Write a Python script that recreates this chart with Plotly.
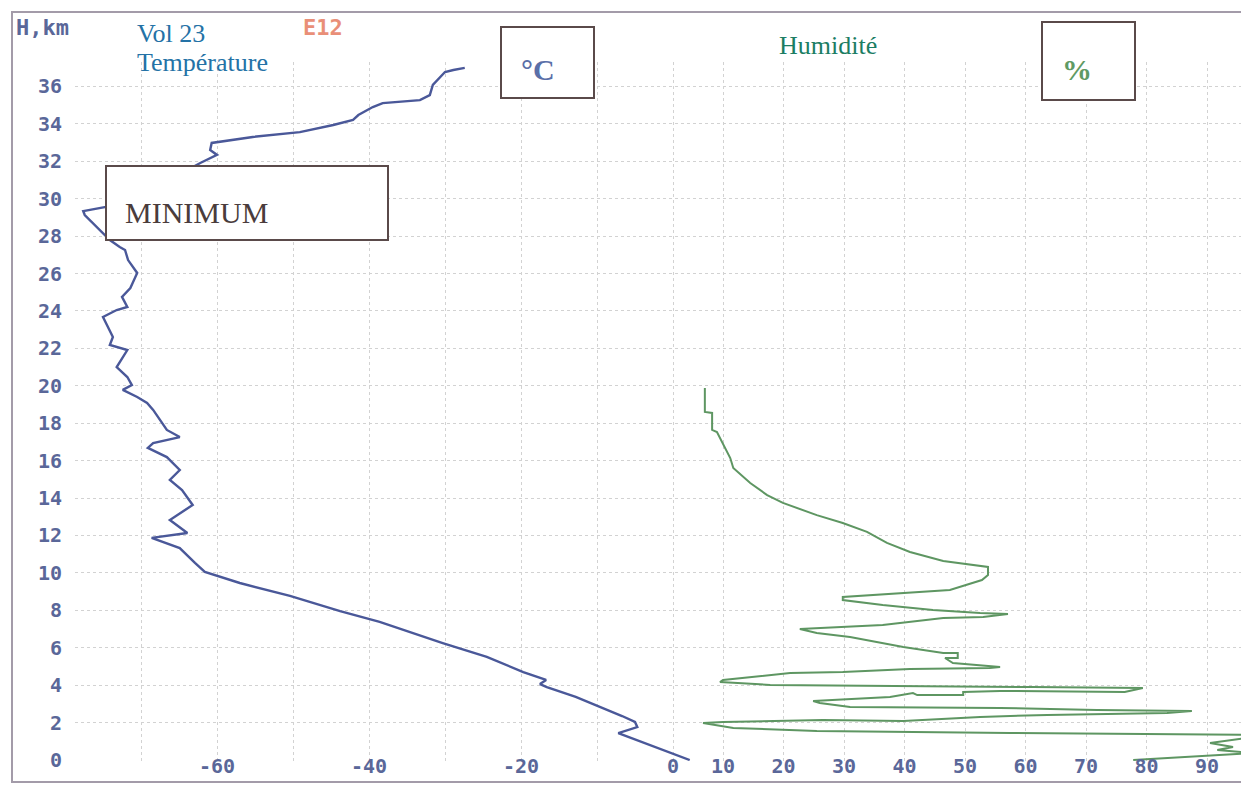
import plotly.graph_objects as go

# ---------------- data ----------------
# Temperature profile (°C) vs altitude (km)
temp_km = [0.00, 0.53, 1.02, 1.44, 1.76, 2.03, 2.35, 2.89, 3.37, 3.90, 4.06, 4.28, 4.70, 5.51,
           6.25, 7.38, 7.96, 8.77, 9.46, 10.05, 10.53, 11.33, 11.87, 12.13, 12.83, 13.63, 14.00,
           14.43, 14.97, 15.50, 16.19, 16.68, 16.94, 17.26, 17.64, 18.17, 18.71, 19.08, 19.40,
           19.78, 20.04, 20.47, 21.00, 21.91, 22.18, 22.61, 23.68, 24.05, 24.21, 24.75, 25.23,
           26.03, 26.35, 26.72, 27.26, 27.42, 27.79, 28.33, 29.13, 29.34, 29.56, 30.46, 31.91,
           32.34, 32.60, 32.98, 33.14, 33.30, 33.56, 33.94, 34.21, 34.47, 34.90, 35.11, 35.27,
           35.54, 36.08, 36.45, 36.77, 36.88, 36.99]
temp_c = [2.2, -1.3, -4.3, -7.2, -4.7, -5.0, -6.7, -9.9, -12.8, -16.6, -17.5, -16.7, -19.7, -24.5,
          -30.3, -38.6, -43.8, -50.4, -57.0, -61.6, -62.9, -64.9, -68.6, -63.9, -66.2, -63.2, -63.9,
          -64.6, -66.2, -64.9, -66.6, -69.1, -68.4, -64.9, -66.6, -67.5, -68.4, -69.2, -70.5,
          -72.4, -71.2, -71.8, -73.2, -71.8, -74.1, -73.7, -75.0, -73.2, -71.8, -72.5, -71.4,
          -70.5, -71.1, -71.7, -72.1, -72.8, -74.1, -75.4, -77.4, -77.6, -74.6, -68.8, -62.2,
          -60.0, -60.9, -60.7, -57.9, -55.3, -49.1, -44.7, -42.1, -41.4, -39.5, -38.2, -33.3,
          -32.0, -31.6, -30.7, -30.0, -28.9, -27.4]

# Relative humidity profile (%) vs altitude (km)
hum_km = [19.88, 18.60, 18.55, 17.64, 17.53, 17.00, 16.14, 15.61, 14.80, 14.16, 13.74, 13.09,
          12.67, 12.19, 11.60, 11.12, 10.64, 10.32, 9.89, 9.62, 9.09, 8.71, 8.55, 8.28, 8.02,
          7.86, 7.80, 7.64, 7.59, 7.22, 7.00, 6.79, 6.57, 6.04, 5.72, 5.72, 5.45, 5.45, 5.18,
          4.97, 4.92, 4.86, 4.70, 4.65, 4.28, 4.17, 4.01, 3.90, 3.85, 3.63, 3.69, 3.63, 3.47,
          3.47, 3.58, 3.37, 3.21, 3.15, 3.05, 2.83, 2.78, 2.67, 2.62, 2.51, 2.41, 2.30, 2.08,
          2.14, 2.03, 1.98, 1.71, 1.55, 1.44, 1.34, 1.18, 0.91, 0.69, 0.53, 0.37, 0.16, 0.00]
hum_pct = [7.0, 7.0, 8.2, 8.2, 9.0, 9.8, 11.2, 11.7, 14.5, 17.3, 19.9, 25.5,
           29.8, 33.8, 37.1, 40.9, 46.4, 53.8, 53.8, 52.8, 47.5, 29.8, 29.8, 36.4, 44.7,
           52.5, 57.1, 53.0, 46.4, 36.4, 22.7, 25.5, 31.0, 39.8, 46.4, 48.8, 48.8, 46.7, 48.0,
           55.8, 54.1, 40.9, 29.8, 21.1, 10.0, 9.5, 17.8, 61.2, 79.4, 76.4, 55.8, 49.7, 49.7,
           42.1, 41.4, 37.6, 28.2, 24.9, 26.0, 31.0, 55.8, 71.8, 87.5, 83.4, 63.6, 52.5, 39.8,
           26.5, 10.0, 6.7, 11.7, 25.5, 57.4, 97.5, 96.8, 90.5, 94.3, 91.7, 97.5, 86.7, 77.8]

# tick labels
y_ticks = list(range(0, 37, 2))
y_ticktext = [str(v) for v in y_ticks]
temp_ticks = [-70, -60, -50, -40, -30, -20, -10, 0]
temp_ticktext = ["", "-60", "", "-40", "", "-20", "", "0"]
hum_ticks = [10, 20, 30, 40, 50, 60, 70, 80, 90]
hum_ticktext = [str(v) for v in hum_ticks]

# ---------------- layout geometry (page pixels) ----------------
PAGE_W, PAGE_H = 1249, 787
OFF = 8                                  # default body margin of the html page
W, H = PAGE_W - OFF, PAGE_H - OFF        # figure size
PLOT_L, PLOT_R, PLOT_T, PLOT_B = 75, 1249, 62, 761   # plot area in page pixels
ML, MR, MT = PLOT_L - OFF, 0, PLOT_T - OFF
MB = (OFF + H) - PLOT_B
PW, PH = PLOT_R - PLOT_L, PLOT_B - PLOT_T


def px_x(px):
    return (px - PLOT_L) / PW


def px_y(py):
    return (PLOT_B - py) / PH


# axis scales (page pixel position of reference values)
T0_PX, T_PER_DEG = 673, 7.6          # 0 °C position, px per °C
RH10_PX, RH_PER_PCT = 723, 6.05      # 10 % position, px per %
KM0_PX, KM_PX = 760, 18.71           # 0 km position, px per km

temp_range = [(PLOT_L - T0_PX) / T_PER_DEG, (PLOT_R - T0_PX) / T_PER_DEG]
hum_range = [10 + (PLOT_L - RH10_PX) / RH_PER_PCT, 10 + (PLOT_R - RH10_PX) / RH_PER_PCT]
km_range = [(KM0_PX - PLOT_B) / KM_PX, (KM0_PX - PLOT_T) / KM_PX]

TICK_COLOR = "#5a6799"
GRID_COLOR = "#d2d2d2"
tickfont = dict(family="DejaVu Sans Mono", size=20, color=TICK_COLOR, weight="bold")

fig = go.Figure()
fig.add_trace(go.Scatter(x=temp_c, y=temp_km, mode="lines", xaxis="x", yaxis="y",
                         line=dict(color="#4a5899", width=2.4), name="Température",
                         showlegend=False))
fig.add_trace(go.Scatter(x=hum_pct, y=hum_km, mode="lines", xaxis="x2", yaxis="y",
                         line=dict(color="#5e9662", width=2), name="Humidité",
                         showlegend=False))

axis_common = dict(showline=False, zeroline=False, showgrid=True, gridcolor=GRID_COLOR,
                   griddash="dot", gridwidth=1, ticks="", tickfont=tickfont, fixedrange=True)

fig.update_layout(
    width=W, height=H,
    margin=dict(l=ML, r=MR, t=MT, b=MB),
    paper_bgcolor="white", plot_bgcolor="white",
    xaxis=dict(range=temp_range, tickmode="array", tickvals=temp_ticks, ticktext=temp_ticktext,
               ticklabelstandoff=-9, **axis_common),
    xaxis2=dict(range=hum_range, overlaying="x", side="bottom", tickmode="array",
                tickvals=hum_ticks, ticktext=hum_ticktext, ticklabelstandoff=-9, **axis_common),
    yaxis=dict(range=km_range, tickmode="array", tickvals=y_ticks, ticktext=y_ticktext,
               ticklabelstandoff=12, **axis_common),
)

BOX_LINE = "#5a4a4a"
shapes = [
    # outer frame of the scanned chart
    dict(type="rect", xref="paper", yref="paper", x0=px_x(12), x1=px_x(1262), y0=px_y(782),
         y1=px_y(12), line=dict(color="#a39ba9", width=2), layer="above"),
    # °C box
    dict(type="rect", xref="paper", yref="paper", x0=px_x(501), x1=px_x(594), y0=px_y(98),
         y1=px_y(27), line=dict(color=BOX_LINE, width=2), fillcolor="white", layer="above"),
    # % box
    dict(type="rect", xref="paper", yref="paper", x0=px_x(1042), x1=px_x(1135), y0=px_y(100),
         y1=px_y(22), line=dict(color=BOX_LINE, width=2), fillcolor="white", layer="above"),
    # MINIMUM box
    dict(type="rect", xref="paper", yref="paper", x0=px_x(106), x1=px_x(388), y0=px_y(240),
         y1=px_y(166), line=dict(color=BOX_LINE, width=2), fillcolor="white", layer="above"),
]
fig.update_layout(shapes=shapes)


def ann(text, x, y, font, xanchor="center"):
    return dict(text=text, x=px_x(x), y=px_y(y), xref="paper", yref="paper", showarrow=False,
                xanchor=xanchor, yanchor="middle", font=font)


serif = "Liberation Serif"
annotations = [
    ann("H,km", 14, 27, dict(family="DejaVu Sans Mono", size=22, color=TICK_COLOR, weight="bold"),
        xanchor="left"),
    ann("E12", 301, 27, dict(family="DejaVu Sans Mono", size=22, color="#e98f78", weight="bold"),
        xanchor="left"),
    ann("Vol 23", 135, 34, dict(family=serif, size=26, color="#2472a6"), xanchor="left"),
    ann("Température", 135, 62, dict(family=serif, size=26, color="#2472a6"), xanchor="left"),
    ann("Humidité", 777, 45, dict(family=serif, size=26, color="#1b7d63"), xanchor="left"),
    ann("°C", 538, 70, dict(family=serif, size=30, color="#5a6fa8", weight="bold")),
    ann("%", 1077, 69, dict(family=serif, size=30, color="#5f9a64", weight="bold")),
    ann("MINIMUM", 123, 212, dict(family=serif, size=30, color="#4a3c3c"), xanchor="left"),
]
fig.update_layout(annotations=annotations)

fig.write_html("out.html")
